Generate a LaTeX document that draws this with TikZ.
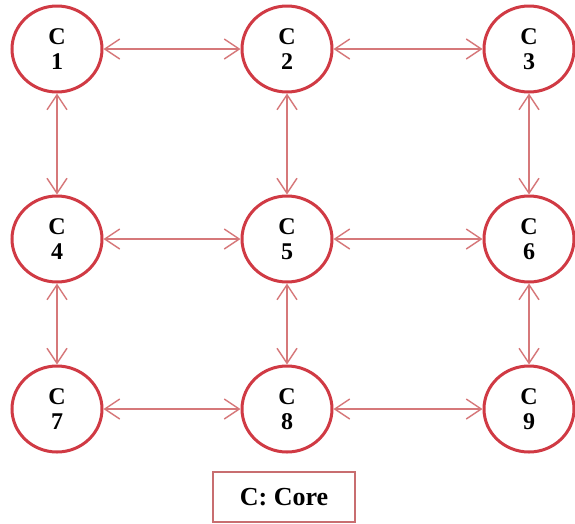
\documentclass[tikz,border=0pt]{standalone}
\usepackage{fontspec}
\setmainfont{Liberation Serif}
\usetikzlibrary{arrows.meta,shapes.geometric}
\definecolor{ring}{RGB}{208,58,68}
\definecolor{link}{RGB}{214,120,122}
\definecolor{boxc}{RGB}{200,110,112}
\tikzset{
  core/.style={ellipse,draw=ring,line width=3pt,fill=white,minimum width=90pt,minimum height=86pt,inner sep=0pt,align=center,font=\fontsize{24}{25}\selectfont\bfseries},
  conn/.style={draw=link,line width=1.4pt,{Straight Barb[length=15pt,width=20pt,line width=1.4pt]}-{Straight Barb[length=15pt,width=20pt,line width=1.4pt]}}
}
\begin{document}
\begin{tikzpicture}[x=1pt,y=-1pt]
\useasboundingbox (0,0) rectangle (575,523);
\node[core] (c1) at (57,49) {C\\1};
\node[core] (c2) at (287,49) {C\\2};
\node[core] (c3) at (529,49) {C\\3};
\node[core] (c4) at (57,239) {C\\4};
\node[core] (c5) at (287,239) {C\\5};
\node[core] (c6) at (529,239) {C\\6};
\node[core] (c7) at (57,409) {C\\7};
\node[core] (c8) at (287,409) {C\\8};
\node[core] (c9) at (529,409) {C\\9};
\draw[conn] (c1) -- (c2);
\draw[conn] (c2) -- (c3);
\draw[conn] (c4) -- (c5);
\draw[conn] (c5) -- (c6);
\draw[conn] (c7) -- (c8);
\draw[conn] (c8) -- (c9);
\draw[conn] (c1) -- (c4);
\draw[conn] (c4) -- (c7);
\draw[conn] (c2) -- (c5);
\draw[conn] (c5) -- (c8);
\draw[conn] (c3) -- (c6);
\draw[conn] (c6) -- (c9);
\node[draw=boxc,line width=1.2pt,minimum width=142pt,minimum height=50pt,font=\fontsize{26}{28}\selectfont\bfseries] (legend) at (284,497) {C: Core};
\end{tikzpicture}
\end{document}
